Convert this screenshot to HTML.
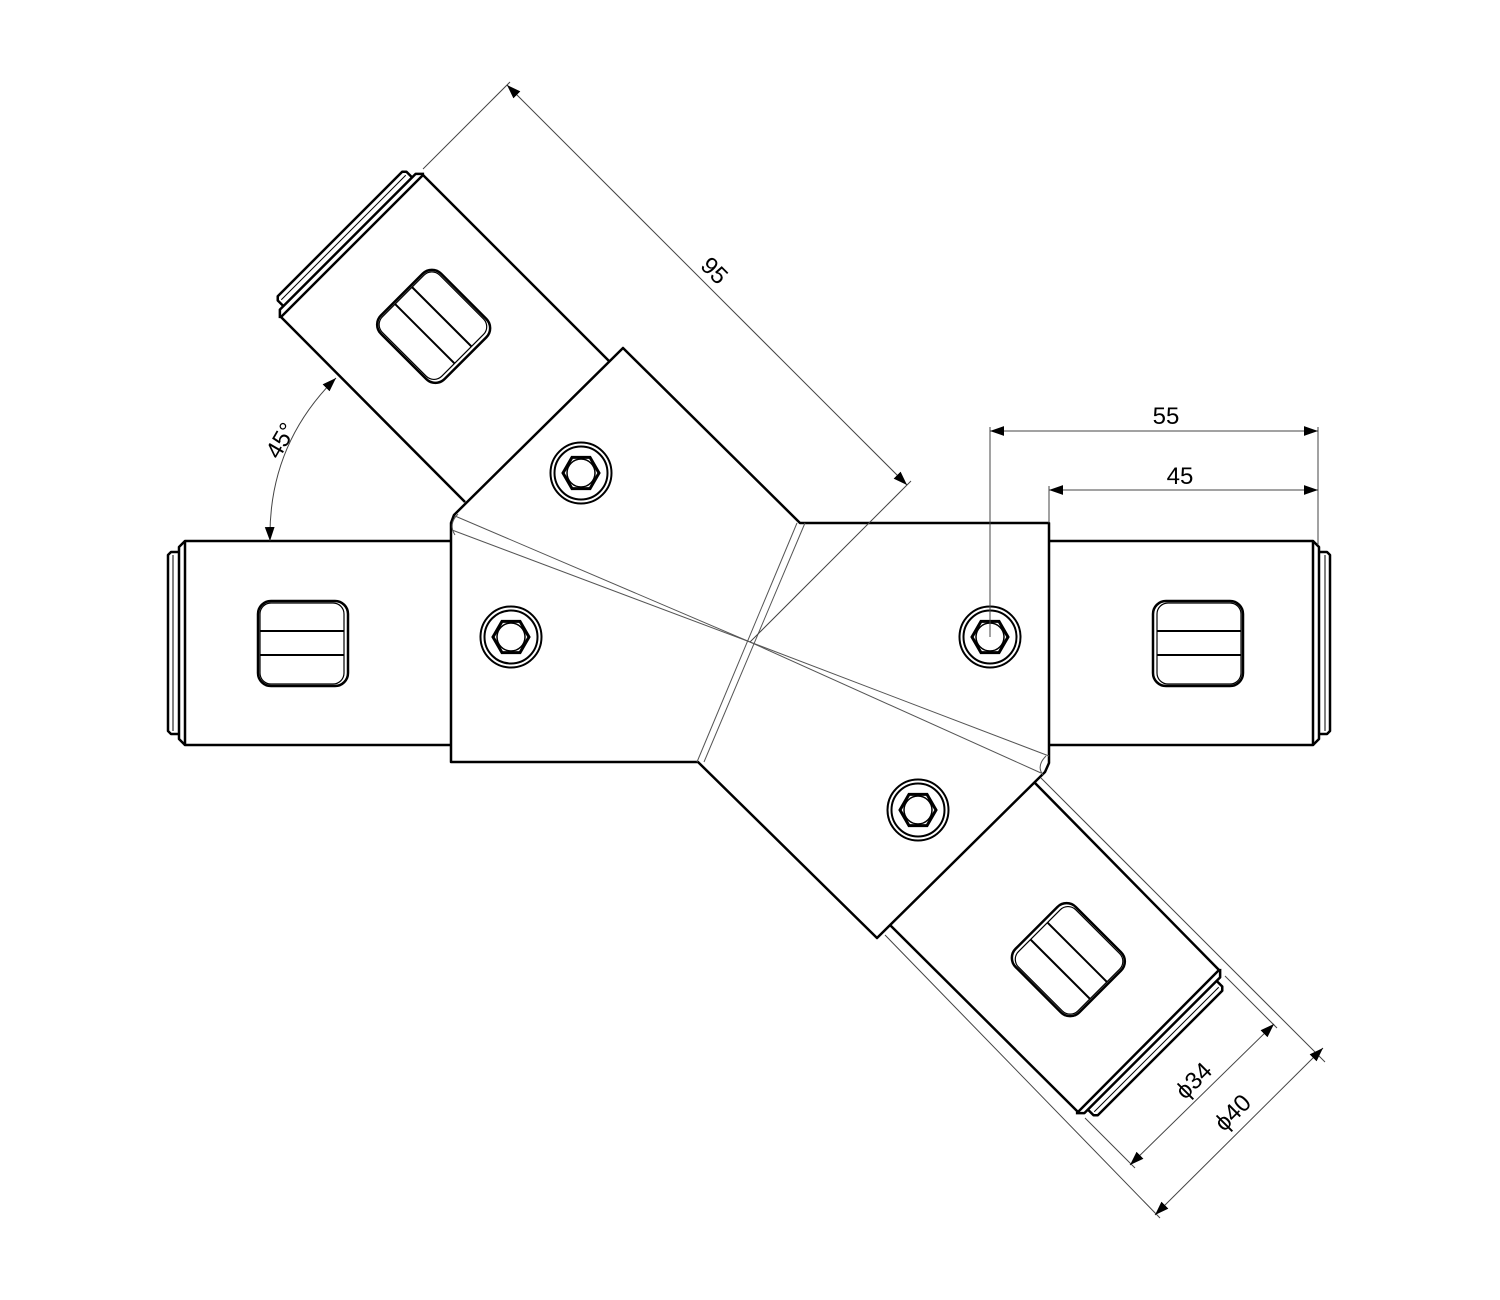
<!DOCTYPE html>
<html><head><meta charset="utf-8"><style>
html,body{margin:0;padding:0;background:#fff}
svg{display:block}
text{font-family:"Liberation Sans","DejaVu Sans",sans-serif;font-size:24px;fill:#000}
</style></head><body>
<svg width="1500" height="1300" viewBox="0 0 1500 1300" xmlns="http://www.w3.org/2000/svg">
<defs>
<marker id="ar" viewBox="0 0 10 10" refX="10" refY="5" markerWidth="14" markerHeight="14" markerUnits="userSpaceOnUse" orient="auto-start-reverse"><path d="M0,1.5 L10,5 L0,8.5 Z" fill="#000"/></marker>
<g id="screw">
<circle r="30.5" fill="none" stroke="#000" stroke-width="2"/>
<circle r="26.5" fill="none" stroke="#000" stroke-width="2"/>
<polygon points="18,0 9,15.6 -9,15.6 -18,0 -9,-15.6 9,-15.6" fill="none" stroke="#000" stroke-width="3"/>
<circle r="14" fill="none" stroke="#000" stroke-width="1.5"/>
</g>
<g id="slot">
<rect x="-45" y="-42" width="90" height="85" rx="13" fill="none" stroke="#000" stroke-width="2.5"/>
<rect x="-43" y="-40" width="84" height="81" rx="11" fill="none" stroke="#000" stroke-width="1.2"/>
<line x1="-43" y1="-12" x2="41" y2="-12" stroke="#000" stroke-width="2"/>
<line x1="-43" y1="12" x2="41" y2="12" stroke="#000" stroke-width="2"/>
</g>
<g id="tubeEnd">
<path d="M0,-102 L-6,-96 L-6,96 L0,102" fill="none" stroke="#000" stroke-width="2.5"/>
<path d="M-6,-91 L-14,-91 L-17,-88 L-17,88 L-14,91 L-6,91" fill="none" stroke="#000" stroke-width="2.5"/>
<line x1="-12" y1="-88" x2="-12" y2="88" stroke="#000" stroke-width="1"/>
</g>
</defs>

<g fill="none" stroke="#000" stroke-linejoin="round">
<path d="M451,541 L185,541 L185,745 L451,745" stroke-width="2.5"/>
<use href="#tubeEnd" transform="translate(185,643)"/>
<use href="#slot" transform="translate(303,643)"/>

<path d="M1049,541 L1313,541 L1313,745 L1049,745" stroke-width="2.5"/>
<use href="#tubeEnd" transform="translate(1313,643) scale(-1,1)"/>
<use href="#slot" transform="translate(1198,643) scale(-1,1)"/>

<path d="M465,502 L281,317 L423,175 L610,362" stroke-width="2.5"/>
<use href="#tubeEnd" transform="translate(352,246) rotate(45)"/>
<use href="#slot" transform="translate(434,326) rotate(45)"/>

<path d="M1035,783 L1219,970 L1078,1112 L890,925" stroke-width="2.5"/>
<use href="#tubeEnd" transform="translate(1148,1041) rotate(-135)"/>
<use href="#slot" transform="translate(1068,960) rotate(-135)"/>

<path d="M451,762 L451,523 L454,515 L623,348 L800,523 L1049,523 L1049,763 L1045,772 L877,938 L698,762 Z" stroke-width="2.5"/>

<g stroke="#555" stroke-width="1">
<line x1="455" y1="516" x2="750" y2="642"/>
<line x1="452" y1="530" x2="750" y2="642"/>
<line x1="750" y1="642" x2="1049" y2="756"/>
<line x1="750" y1="642" x2="1041" y2="773"/>
<line x1="797" y1="523" x2="697" y2="762"/>
<line x1="805" y1="523" x2="704" y2="762"/>
<path d="M458,514 Q448,524 455,535"/>
<path d="M1046,756 Q1036,766 1043,775"/>
</g>
</g>

<use href="#screw" transform="translate(581,473)"/>
<use href="#screw" transform="translate(511,637)"/>
<use href="#screw" transform="translate(990,637)"/>
<use href="#screw" transform="translate(918,810)"/>

<g stroke="#444" stroke-width="1" fill="none">
<line x1="423" y1="169" x2="510" y2="82"/>
<line x1="750" y1="642" x2="911" y2="481"/>
<line x1="507" y1="85" x2="907" y2="485" marker-start="url(#ar)" marker-end="url(#ar)"/>
<line x1="990" y1="427" x2="990" y2="637"/>
<line x1="1318" y1="427" x2="1318" y2="545"/>
<line x1="990" y1="431" x2="1318" y2="431" marker-start="url(#ar)" marker-end="url(#ar)"/>
<line x1="1049" y1="486" x2="1049" y2="523"/>
<line x1="1049" y1="490" x2="1318" y2="490" marker-start="url(#ar)" marker-end="url(#ar)"/>
<path d="M270,541 Q268,445 336,378" marker-start="url(#ar)" marker-end="url(#ar)"/>
<line x1="1041" y1="778" x2="1325" y2="1062"/>
<line x1="885" y1="935" x2="1160" y2="1218"/>
<line x1="1225" y1="976" x2="1277" y2="1028"/>
<line x1="1085" y1="1118" x2="1135" y2="1168"/>
<line x1="1130" y1="1165" x2="1274" y2="1024" marker-start="url(#ar)" marker-end="url(#ar)"/>
<line x1="1155" y1="1215" x2="1323" y2="1048" marker-start="url(#ar)" marker-end="url(#ar)"/>
</g>

<text x="715" y="279" text-anchor="middle" transform="rotate(45 715 270)">95</text>
<text x="1166" y="424" text-anchor="middle">55</text>
<text x="1180" y="484" text-anchor="middle">45</text>
<text x="280" y="449" text-anchor="middle" transform="rotate(-60 280 440)">45°</text>
<text x="1193" y="1089" text-anchor="middle" transform="rotate(-45 1193 1080)">ϕ34</text>
<text x="1232" y="1121" text-anchor="middle" transform="rotate(-45 1232 1112)">ϕ40</text>
</svg>
</body></html>
